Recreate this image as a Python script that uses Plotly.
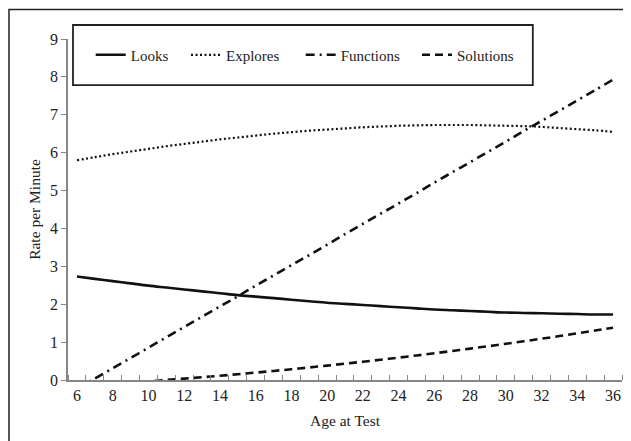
import plotly.graph_objects as go

ages = list(range(6, 37))
x_tick_labels = [str(a) for a in range(6, 37, 2)]
y_ticks = list(range(0, 10))

looks = [2.73, 2.67, 2.61, 2.55, 2.49, 2.44, 2.39, 2.34, 2.29, 2.24, 2.20, 2.16, 2.12, 2.08, 2.04,
         2.01, 1.98, 1.95, 1.92, 1.89, 1.86, 1.84, 1.82, 1.80, 1.78, 1.77, 1.76, 1.75, 1.74, 1.73, 1.73]
explores = [5.80, 5.88, 5.96, 6.03, 6.10, 6.17, 6.23, 6.29, 6.35, 6.40, 6.45, 6.50, 6.54, 6.58, 6.61,
            6.64, 6.67, 6.69, 6.71, 6.72, 6.73, 6.73, 6.73, 6.72, 6.71, 6.70, 6.68, 6.65, 6.62, 6.59, 6.55]
functions = [-0.23, 0.04, 0.31, 0.58, 0.85, 1.13, 1.40, 1.67, 1.94, 2.21, 2.49, 2.76, 3.03, 3.30, 3.57,
             3.85, 4.12, 4.39, 4.66, 4.93, 5.21, 5.48, 5.75, 6.02, 6.29, 6.57, 6.84, 7.11, 7.38, 7.65, 7.93]
solutions = [-0.15, -0.13, -0.10, -0.07, -0.035, 0.0, 0.036, 0.073, 0.112, 0.153, 0.195, 0.239, 0.284,
             0.331, 0.380, 0.430, 0.482, 0.536, 0.591, 0.648, 0.706, 0.766, 0.828, 0.891, 0.956, 1.022,
             1.090, 1.160, 1.232, 1.305, 1.380]

FONT = "Liberation Serif"
INK = "#111111"

series = [
    ("Looks", looks, dict(color=INK, width=2.6, dash="solid"), "legend", 0.041),
    ("Explores", explores, dict(color=INK, width=2.2, dash="2px,2.5px"), "legend2", 0.213),
    ("Functions", functions, dict(color=INK, width=2.6, dash="9px,5px,2px,5px"), "legend3", 0.420),
    ("Solutions", solutions, dict(color=INK, width=2.6, dash="8px,5px"), "legend4", 0.630),
]

fig = go.Figure()
legends = {}
for name, vals, ln, lg, lx in series:
    fig.add_trace(go.Scatter(x=ages, y=vals, mode="lines", name=name, line=ln,
                             line_shape="spline", legend=lg))
    legends[lg] = dict(x=lx, y=0.953, xanchor="left", yanchor="middle", orientation="h",
                       bgcolor="rgba(0,0,0,0)", borderwidth=0, itemwidth=30,
                       font=dict(family=FONT, size=15, color="#222222"))

fig.update_layout(
    width=623, height=433,
    margin=dict(l=60, r=9, t=31, b=61),
    paper_bgcolor="white", plot_bgcolor="white",
    font=dict(family=FONT, size=16, color="#222222"),
    showlegend=True,
    **legends,
    xaxis=dict(
        range=[5.5, 36.5], tickmode="array", tickvals=list(range(6, 37, 2)), ticktext=x_tick_labels,
        ticks="", showgrid=False, zeroline=False, showline=True, linecolor="#868686", linewidth=1.5,
        tickfont=dict(family=FONT, size=16, color="#222222"),
        minor=dict(tickmode="linear", tick0=5.5, dtick=1, ticks="inside", ticklen=5,
                   tickcolor="#868686", tickwidth=1.3, showgrid=False),
        title=dict(text="Age at Test", font=dict(family=FONT, size=15.5, color="#222222"), standoff=12),
    ),
    yaxis=dict(
        range=[0, 9], tickmode="array", tickvals=y_ticks, ticks="outside", ticklen=5,
        tickcolor="#868686", tickwidth=1.3, showgrid=False, zeroline=False, showline=True,
        linecolor="#868686", linewidth=1.5,
        tickfont=dict(family=FONT, size=16, color="#222222"),
        title=dict(text="Rate per Minute", font=dict(family=FONT, size=15.5, color="#222222"), standoff=6),
    ),
    shapes=[
        dict(type="rect", xref="paper", yref="paper", x0=-0.1065, x1=1.2, y0=-0.4, y1=1.0865,
             line=dict(color="#222222", width=1.5), fillcolor="rgba(0,0,0,0)", layer="below"),
        dict(type="rect", xref="paper", yref="paper", x0=0.009, x1=0.839, y0=0.865, y1=1.041,
             line=dict(color="#222222", width=1.8), fillcolor="white", layer="above"),
    ],
)

fig.write_html("out.html")
